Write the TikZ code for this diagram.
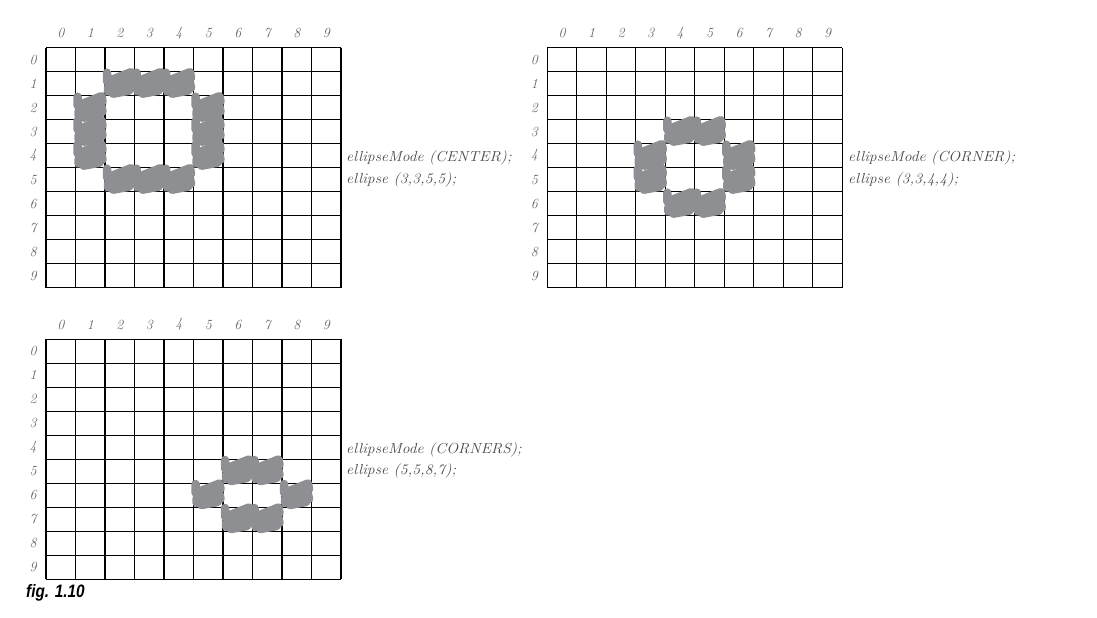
\documentclass[tikz,border=0pt]{standalone}
\usepackage{fontspec}
\newfontfamily\capfont{Liberation Sans}
\definecolor{scrib}{HTML}{8E8F92}
\definecolor{txt}{HTML}{4A4A4A}
\definecolor{dig}{HTML}{666666}
\tikzset{
  gridline/.style={draw=black,line width=1.0pt},
  gridthick/.style={draw=black,line width=1.5pt},
  scribble/.style={draw=scrib,line width=8.5pt,line cap=round,line join=round},
  lbl/.style={text=dig,font=\fontsize{14}{15}\selectfont\itshape,inner sep=0pt},
  code/.style={text=txt,font=\fontsize{14.5}{16}\selectfont\itshape,anchor=west,inner sep=0pt},
  caption/.style={font=\capfont\bfseries\itshape\fontsize{18}{19}\selectfont,anchor=west,inner sep=0pt}
}
\newcommand\scrib[2]{%
  \draw[scribble] ({#1*29.5+2},{#2*24+1}) -- ({#1*29.5+2},{#2*24+10})
   -- ({#1*29.5+26},{#2*24+0.5}) -- ({#1*29.5+27},{#2*24+6})
   -- ({#1*29.5+3},{#2*24+16}) -- ({#1*29.5+3},{#2*24+20})
   -- ({#1*29.5+26},{#2*24+11}) -- ({#1*29.5+27},{#2*24+16})
   -- ({#1*29.5+8},{#2*24+22}) -- ({#1*29.5+24},{#2*24+19});}
\begin{document}
\begin{tikzpicture}[x=1pt,y=-1pt]
\useasboundingbox[fill=white] (0,0) rectangle (1097,618);
\foreach \gx/\gy/\nm in {46/47.7/a, 547.3/47.7/b, 46/339/c}{
  \begin{scope}[shift={(\gx,\gy)}]
    \foreach \i in {0,...,10}{
      \draw[gridline] (0,\i*24) -- (295,\i*24);
    }
    \foreach \i in {1,3,5,7,9}{
      \draw[gridline] (\i*29.5,0) -- (\i*29.5,240);
    }
    \foreach \i in {0,2,4,6,8,10}{
      \draw[gridthick] (\i*29.5,0) -- (\i*29.5,240);
    }
    \foreach \i in {0,...,9}{
      \node[lbl] (\nm col\i) at (\i*29.5+14.75,-14.5) {\i};
      \node[lbl] (\nm row\i) at (-13,\i*24+12) {\i};
    }
  \end{scope}
}
% grid 1: CENTER
\begin{scope}[shift={(46,47.7)}]
  \foreach \c/\r in {2/1,3/1,4/1,1/2,1/3,1/4,5/2,5/3,5/4,2/5,3/5,4/5}{\scrib{\c}{\r}}
\end{scope}
% grid 2: CORNER
\begin{scope}[shift={(547.3,47.7)}]
  \foreach \c/\r in {4/3,5/3,3/4,3/5,6/4,6/5,4/6,5/6}{\scrib{\c}{\r}}
\end{scope}
% grid 3: CORNERS
\begin{scope}[shift={(46,339)}]
  \foreach \c/\r in {6/5,7/5,5/6,8/6,6/7,7/7}{\scrib{\c}{\r}}
\end{scope}
\node[code] (t1a) at (346,158) {\scalebox{1.08}[1]{ellipseMode (CENTER);}};
\node[code] (t1b) at (346,180) {\scalebox{1.08}[1]{ellipse (3,3,5,5);}};
\node[code] (t2a) at (848,158) {\scalebox{1.08}[1]{ellipseMode (CORNER);}};
\node[code] (t2b) at (848,180) {\scalebox{1.08}[1]{ellipse (3,3,4,4);}};
\node[code] (t3a) at (346,450) {\scalebox{1.08}[1]{ellipseMode (CORNERS);}};
\node[code] (t3b) at (346,471) {\scalebox{1.08}[1]{ellipse (5,5,8,7);}};
\node[caption] (fig) at (26,593) {\scalebox{0.85}[1]{fig. 1.10}};
\end{tikzpicture}
\end{document}
